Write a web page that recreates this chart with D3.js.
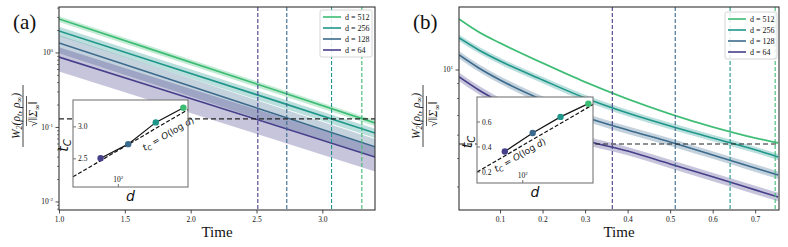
<!DOCTYPE html>
<html>
<head>
<meta charset="utf-8">
<script src="https://cdn.jsdelivr.net/npm/d3@7"></script>
<style>
  body { margin: 0; background: #fff; }
  svg { display: block; }
  text { font-family: "Liberation Serif", "DejaVu Serif", serif; fill: #111; }
</style>
</head>
<body>
<svg id="chart" width="788" height="247"></svg>
<script>
// series, top of legend first
const dims = [512, 256, 128, 64]
const colors = ["#3dbc74", "#1f968b", "#3b6a8d", "#463f8a"]

// panel (a): exponential decay, straight on log axis
const timeA = [1.0, 1.8, 2.6, 3.4]
const meanA = [
  [2.86, 0.98, 0.335, 0.115],
  [1.97, 0.69, 0.242, 0.084],
  [1.36, 0.467, 0.160, 0.055],
  [0.88, 0.315, 0.113, 0.040]
]
const stdA = [0.09, 0.14, 0.27, 0.36]   // relative spread of the shaded band
const thresholdA = 0.13
const tcA = [3.30, 3.07, 2.73, 2.51]
const xTicksA = [1.0, 1.5, 2.0, 2.5, 3.0]
const yTicksA = [1, 0.1, 0.01]
const insetTicksA = [2.5, 3.0]
const fitA = [2.22, 3.27]

// panel (b)
const timeB = [0.004, 0.05, 0.1, 0.2, 0.3, 0.4, 0.5, 0.6, 0.7, 0.754]
const meanB = [
  [14.9, 13.47, 12.35, 10.56, 9.10, 7.97, 7.09, 6.40, 5.87, 5.65],
  [12.85, 11.7, 10.73, 9.25, 8.03, 7.14, 6.45, 5.87, 5.35, 5.06],
  [11.25, 10.16, 9.25, 7.91, 6.92, 6.25, 5.69, 5.14, 4.64, 4.39],
  [9.47, 8.55, 7.78, 6.66, 5.78, 5.30, 4.79, 4.33, 3.91, 3.70]
]
const stdB = [0.008, 0.025, 0.03, 0.033]
const thresholdB = 5.6
const tcB = [0.747, 0.641, 0.512, 0.364]
const xTicksB = [0.1, 0.2, 0.3, 0.4, 0.5, 0.6, 0.7]
const yTicksB = [10]
const insetTicksB = [0.2, 0.4, 0.6]
const fitB = [0.20, 0.74]

const fitD = [32, 575]
const insetTickD = [100]

const svg = d3.select("#chart")

const panels = [
  {
    id: "a", label: "(a)", time: timeA, mean: meanA, std: stdA, threshold: thresholdA, tc: tcA,
    xTicks: xTicksA, yTicks: yTicksA, curve: d3.curveLinear,
    xDomain: [1.0, 3.4], yDomain: [0.0078, 4.14],
    left: 59, right: 375, top: 7, bottom: 210,
    legend: { x: 320, y: 10 },
    inset: { x0: 73, x1: 188, y0: 100, y1: 187, yDomain: [2.06, 3.42], ticks: insetTicksA, fit: fitA, labelAt: 0.78, labelOff: 11 }
  },
  {
    id: "b", label: "(b)", time: timeB, mean: meanB, std: stdB, threshold: thresholdB, tc: tcB,
    xTicks: xTicksB, yTicks: yTicksB, curve: d3.curveMonotoneX,
    xDomain: [0.0035, 0.756], yDomain: [3.34, 16.38],
    left: 459, right: 779, top: 7, bottom: 210,
    legend: { x: 725, y: 12 },
    inset: { x0: 477, x1: 593, y0: 97, y1: 183, yDomain: [0.112, 0.80], ticks: insetTicksB, fit: fitB, labelAt: 0.34, labelOff: 7 }
  }
]

panels.forEach(drawPanel)

function supLabel(sel, base, exp) {
  sel.text(null)
  sel.append("tspan").text(base)
  sel.append("tspan").attr("dy", -3).attr("font-size", "5px").text(exp)
}

function drawPanel(p) {
  const g = svg.append("g")
  const x = d3.scaleLinear().domain(p.xDomain).range([p.left, p.right])
  const y = d3.scaleLog().domain(p.yDomain).range([p.bottom, p.top])

  svg.append("clipPath").attr("id", "clip-" + p.id)
    .append("rect")
    .attr("x", p.left).attr("y", p.top)
    .attr("width", p.right - p.left).attr("height", p.bottom - p.top)

  const plot = g.append("g").attr("clip-path", `url(#clip-${p.id})`)

  // shaded bands
  p.mean.forEach((m, i) => {
    const pts = p.time.map((t, j) => ({ t, m: m[j], lo: m[j] * (1 - p.std[i]), hi: m[j] * (1 + p.std[i]) }))
    plot.append("path")
      .datum(pts)
      .attr("d", d3.area().x(d => x(d.t)).y0(d => y(d.lo)).y1(d => y(d.hi)).curve(p.curve))
      .attr("fill", colors[i])
      .attr("fill-opacity", 0.3)
  })

  // mean lines
  p.mean.forEach((m, i) => {
    const pts = p.time.map((t, j) => ({ t, v: m[j] }))
    plot.append("path")
      .datum(pts)
      .attr("d", d3.line().x(d => x(d.t)).y(d => y(d.v)).curve(p.curve))
      .attr("fill", "none")
      .attr("stroke", colors[i])
      .attr("stroke-width", 1.6)
  })

  // crossing times
  p.tc.forEach((t, i) => {
    plot.append("line")
      .attr("x1", x(t)).attr("x2", x(t))
      .attr("y1", p.top).attr("y2", p.bottom)
      .attr("stroke", colors[i])
      .attr("stroke-width", 1.1)
      .attr("stroke-dasharray", "4,2")
  })

  // threshold
  plot.append("line")
    .attr("x1", p.left).attr("x2", p.right)
    .attr("y1", y(p.threshold)).attr("y2", y(p.threshold))
    .attr("stroke", "#222")
    .attr("stroke-width", 1.2)
    .attr("stroke-dasharray", "5,3")

  // x axis
  const xAxis = g.append("g")
    .attr("transform", `translate(0,${p.bottom})`)
    .call(d3.axisBottom(x).tickValues(p.xTicks).tickSize(3.5).tickPadding(3).tickFormat(d3.format(".1f")))
  xAxis.select(".domain").remove()
  xAxis.selectAll("text").style("font-size", "7.5px").attr("font-family", null).attr("fill", "#111")
  xAxis.selectAll(".tick line").attr("stroke", "#222").attr("stroke-width", 0.8)

  // y axis (log, major + minor)
  const [y0, y1] = p.yDomain
  const minor = []
  for (let e = Math.floor(Math.log10(y0)); e <= Math.ceil(Math.log10(y1)); e++) {
    for (let k = 2; k <= 9; k++) {
      const v = k * Math.pow(10, e)
      if (v >= y0 && v <= y1) minor.push(v)
    }
  }
  const yAxis = g.append("g").attr("transform", `translate(${p.left},0)`)
  yAxis.selectAll(".minor").data(minor).enter().append("line")
    .attr("x1", 0).attr("x2", -2).attr("y1", d => y(d)).attr("y2", d => y(d))
    .attr("stroke", "#222").attr("stroke-width", 0.6)
  yAxis.selectAll(".major").data(p.yTicks).enter().append("line")
    .attr("x1", 0).attr("x2", -3.5).attr("y1", d => y(d)).attr("y2", d => y(d))
    .attr("stroke", "#222").attr("stroke-width", 0.8)
  yAxis.selectAll(".lab").data(p.yTicks).enter().append("text")
    .attr("x", -6).attr("y", d => y(d) + 2.5)
    .attr("text-anchor", "end")
    .style("font-size", "7.5px")
    .each(function (d) { supLabel(d3.select(this), "10", String(Math.round(Math.log10(d)))) })

  // frame
  g.append("rect")
    .attr("x", p.left).attr("y", p.top)
    .attr("width", p.right - p.left).attr("height", p.bottom - p.top)
    .attr("fill", "none").attr("stroke", "#333").attr("stroke-width", 1.1)

  // titles
  g.append("text")
    .attr("x", (p.left + p.right) / 2).attr("y", p.bottom + 27)
    .attr("text-anchor", "middle")
    .style("font-size", "15px")
    .text("Time")

  g.append("text")
    .attr("x", p.left - 46).attr("y", 29)
    .style("font-size", "21px")
    .text(p.label)

  // y label fraction
  const yl = g.append("g").attr("transform", `translate(${p.left - 36},116) rotate(-90)`)
  const num = yl.append("text").attr("x", 0).attr("y", -3.5).attr("text-anchor", "middle")
    .style("font-size", "11.5px").style("font-style", "italic")
  num.append("tspan").text("W")
  num.append("tspan").attr("dy", 2.5).attr("font-size", "8px").text("2")
  num.append("tspan").attr("dy", -2.5).text("(ρ")
  num.append("tspan").attr("dy", 2.5).attr("font-size", "8px").text("t")
  num.append("tspan").attr("dy", -2.5).text(", ρ")
  num.append("tspan").attr("dy", 2.5).attr("font-size", "8px").text("∞")
  num.append("tspan").attr("dy", -2.5).text(")")
  yl.append("line").attr("x1", -31).attr("x2", 31).attr("y1", 0).attr("y2", 0)
    .attr("stroke", "#111").attr("stroke-width", 0.8)
  const den = yl.append("text").attr("x", 2).attr("y", 14).attr("text-anchor", "middle")
    .style("font-size", "11.5px")
  den.append("tspan").text("√‖")
  den.append("tspan").style("font-style", "italic").text("Σ")
  den.append("tspan").attr("dy", 2.5).attr("font-size", "8px").text("∞")
  den.append("tspan").attr("dy", -2.5).text("‖")
  yl.append("line").attr("x1", -10).attr("x2", 20).attr("y1", 3.5).attr("y2", 3.5)
    .attr("stroke", "#111").attr("stroke-width", 0.7)

  // legend
  const lg = g.append("g").attr("transform", `translate(${p.legend.x},${p.legend.y})`)
  lg.append("rect").attr("width", 52).attr("height", 47).attr("rx", 2)
    .attr("fill", "#fff").attr("fill-opacity", 0.85).attr("stroke", "#ccc").attr("stroke-width", 0.8)
  dims.forEach((d, i) => {
    const yy = 7 + i * 11
    lg.append("line").attr("x1", 3).attr("x2", 21).attr("y1", yy).attr("y2", yy)
      .attr("stroke", colors[i]).attr("stroke-width", 1.6)
    lg.append("text").attr("x", 25).attr("y", yy + 2.7).style("font-size", "8px").text(`d = ${d}`)
  })

  drawInset(g, p)
}

function drawInset(g, p) {
  const ins = p.inset
  const ix = d3.scaleLog().domain(fitD).range([ins.x0, ins.x1])
  const iy = d3.scaleLinear().domain(ins.yDomain).range([ins.y1, ins.y0])
  const ig = g.append("g")

  ig.append("rect")
    .attr("x", ins.x0).attr("y", ins.y0)
    .attr("width", ins.x1 - ins.x0).attr("height", ins.y1 - ins.y0)
    .attr("fill", "#fff")

  // y ticks inside
  ins.ticks.forEach(v => {
    ig.append("line").attr("x1", ins.x0).attr("x2", ins.x0 + 3)
      .attr("y1", iy(v)).attr("y2", iy(v)).attr("stroke", "#333").attr("stroke-width", 0.7)
    ig.append("text").attr("x", ins.x0 + 5).attr("y", iy(v) + 2.5)
      .style("font-size", "7.5px").text(d3.format(".1f")(v))
  })
  insetTickD.forEach(v => {
    ig.append("line").attr("x1", ix(v)).attr("x2", ix(v))
      .attr("y1", ins.y1).attr("y2", ins.y1 - 3).attr("stroke", "#333").attr("stroke-width", 0.7)
    ig.append("text").attr("x", ix(v)).attr("y", ins.y1 - 5)
      .attr("text-anchor", "middle").style("font-size", "7.5px")
      .each(function () { supLabel(d3.select(this), "10", "2") })
  })

  // fit line
  ig.append("line")
    .attr("x1", ix(fitD[0])).attr("y1", iy(ins.fit[0]))
    .attr("x2", ix(fitD[1])).attr("y2", iy(ins.fit[1]))
    .attr("stroke", "#111").attr("stroke-width", 1.2).attr("stroke-dasharray", "4,2")

  // measured crossing times
  const pts = dims.map((d, i) => ({ d, tc: p.tc[i], c: colors[i] })).reverse()
  ig.append("path")
    .datum(pts)
    .attr("d", d3.line().x(d => ix(d.d)).y(d => iy(d.tc)))
    .attr("fill", "none").attr("stroke", "#111").attr("stroke-width", 1.2)
  ig.selectAll(".pt").data(pts).enter().append("circle")
    .attr("cx", d => ix(d.d)).attr("cy", d => iy(d.tc)).attr("r", 3.2)
    .attr("fill", d => d.c)

  // fit label along the line
  const ax = ix(fitD[0]), ay = iy(ins.fit[0]), bx = ix(fitD[1]), by = iy(ins.fit[1])
  const ang = Math.atan2(by - ay, bx - ax)
  const cx = ax + (bx - ax) * ins.labelAt - Math.sin(ang) * ins.labelOff
  const cy = ay + (by - ay) * ins.labelAt + Math.cos(ang) * ins.labelOff
  const lt = ig.append("text")
    .attr("transform", `translate(${cx},${cy}) rotate(${ang * 180 / Math.PI})`)
    .attr("text-anchor", "middle").attr("dy", 3)
    .style("font-size", "9px").style("font-family", "'DejaVu Sans', sans-serif")
  lt.append("tspan").style("font-style", "italic").text("t")
  lt.append("tspan").attr("dy", 2).attr("font-size", "6.5px").style("font-style", "italic").text("C")
  lt.append("tspan").attr("dy", -2).text(" = ")
  lt.append("tspan").style("font-style", "italic").text("O")
  lt.append("tspan").text("(log ")
  lt.append("tspan").style("font-style", "italic").text("d")
  lt.append("tspan").text(")")

  ig.append("rect")
    .attr("x", ins.x0).attr("y", ins.y0)
    .attr("width", ins.x1 - ins.x0).attr("height", ins.y1 - ins.y0)
    .attr("fill", "none").attr("stroke", "#777").attr("stroke-width", 1.1)

  // inset axis labels
  const tl = ig.append("text")
    .attr("transform", `translate(${ins.x0 - 5},${(ins.y0 + ins.y1) / 2 + 2}) rotate(-90)`)
    .attr("text-anchor", "middle")
    .style("font-size", "14px").style("font-family", "'DejaVu Sans', sans-serif").style("font-style", "italic")
  tl.append("tspan").text("t")
  tl.append("tspan").attr("dy", 3).attr("font-size", "10px").text("C")
  ig.append("text")
    .attr("x", (ins.x0 + ins.x1) / 2).attr("y", ins.y1 + 14)
    .attr("text-anchor", "middle")
    .style("font-size", "14px").style("font-family", "'DejaVu Sans', sans-serif").style("font-style", "italic")
    .text("d")
}
</script>
</body>
</html>
